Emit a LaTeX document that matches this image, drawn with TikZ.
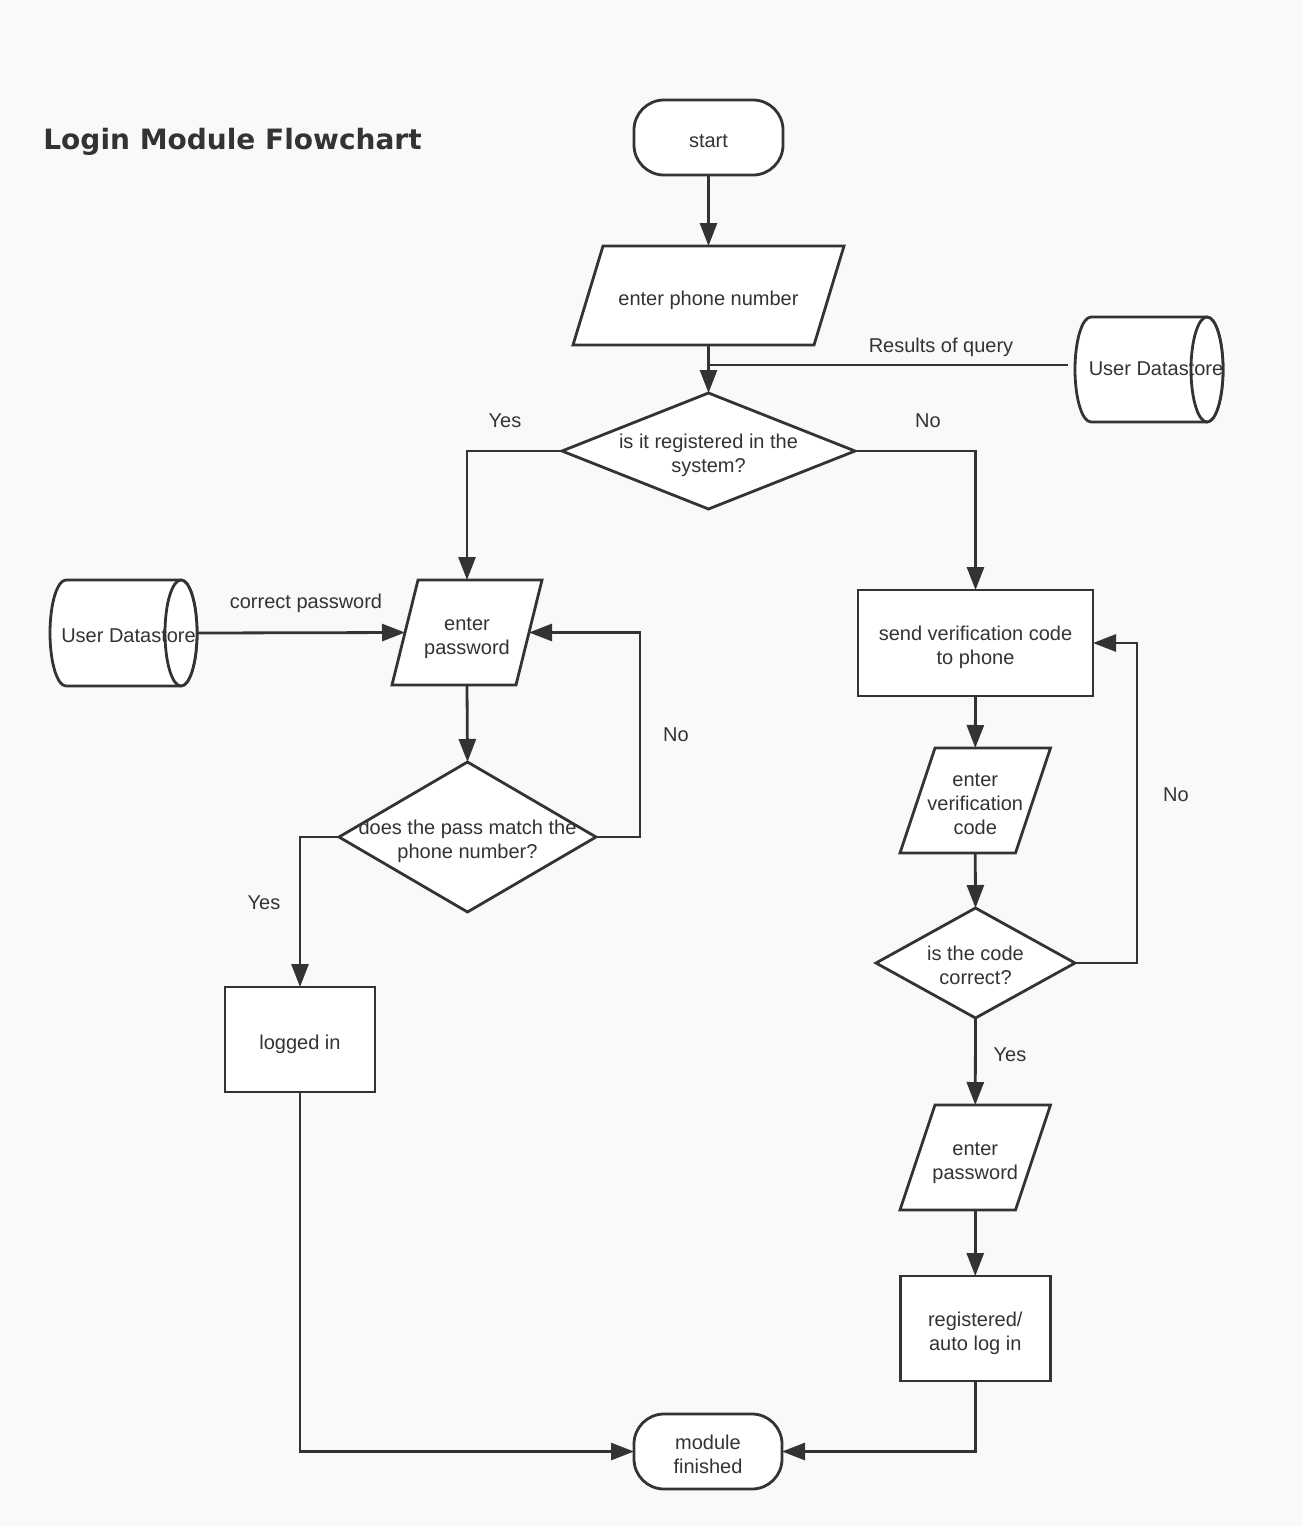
\documentclass[tikz,border=0pt]{standalone}
\usepackage{fontspec}
\setmainfont{Liberation Sans}
\newfontfamily\titlefont{DejaVu Sans}
\usetikzlibrary{shapes.geometric,arrows.meta,calc}
\definecolor{ink}{HTML}{333333}
\definecolor{paper}{HTML}{F9F9F9}
\pgfdeclarelayer{bg}\pgfdeclarelayer{shp}\pgfsetlayers{bg,shp,main}
\newcommand\zt[1]{\makebox[0pt]{\smash{\raisebox{-5pt}{\begin{tabular}[c]{@{}c@{}}#1\end{tabular}}}}}
\newcommand\para[2]{\draw[iobox] ([xshift=#2]#1.north west) -- ([xshift=#2]#1.north east) -- ([xshift=-#2]#1.south east) -- ([xshift=-#2]#1.south west) -- cycle;}
\newcommand\cyl[2]{%
 \draw[iobox] ([xshift=8pt]#1.north west) -- ([xshift=-8pt]#1.north east)
   arc[start angle=90, end angle=-90, x radius=8pt, y radius=#2]
   -- ([xshift=8pt]#1.south west)
   arc[start angle=270, end angle=90, x radius=8pt, y radius=#2] -- cycle;
 \draw[iobox] ([xshift=-8pt]#1.east) ellipse[x radius=8pt, y radius=#2];}
\tikzset{
 bodyfont/.style={font=\fontsize{10pt}{12pt}\selectfont, text=ink},
 base/.style={bodyfont, draw=ink, line width=1.4pt, fill=white, inner sep=0pt, outer sep=0pt},
 terminal/.style={base, rectangle, rounded corners=15pt, minimum width=74pt, minimum height=37.5pt},
 proc/.style={base, rectangle, minimum width=75pt, minimum height=52.5pt},
 decision/.style={base, diamond},
 iotext/.style={bodyfont, inner sep=0pt, outer sep=0pt, minimum height=52.5pt},
 iobox/.style={draw=ink, line width=1.4pt, fill=white},
 link/.style={draw=ink, line width=1.4pt},
 arr/.style={link, -{Triangle[length=11.5pt,width=8.5pt]}},
 lab/.style={bodyfont, inner sep=0pt},
}
\begin{document}
\begin{tikzpicture}[x=0.5pt, y=-0.5pt]
\useasboundingbox (0,0) rectangle (1303,1526);
\begin{pgfonlayer}{bg}
\fill[paper] (0,0) rectangle (1303,1526);
\end{pgfonlayer}

\node[anchor=west, inner sep=0pt, text=ink, font=\titlefont\bfseries\fontsize{14pt}{16pt}\selectfont] (title) at (43,142) {Login Module Flowchart};

% nodes
\node[terminal, minimum width=74.5pt] (start) at (708.5,137.5) {\zt{start}};
\node[iotext, minimum width=120.5pt, minimum height=49.5pt] (phone) at (708.5,295.5) {\zt{enter phone number}};
\node[iotext, minimum width=74pt, minimum height=52.5pt] (ds1) at (1149,369.5) {\zt{\hspace*{7pt}\raisebox{2pt}{User Datastore}}};
\node[decision, minimum width=146.5pt, minimum height=58pt] (d1) at (708.5,451) {\zt{is it registered in the\\system?}};
\node[iotext, minimum width=62pt] (pw1) at (467,632.5) {\zt{enter\\password}};
\node[iotext, minimum width=73.5pt, minimum height=53pt] (ds2) at (123.5,633) {\zt{\hspace*{5pt}User Datastore}};
\node[decision, minimum width=128.5pt, minimum height=75pt] (d2) at (467.5,837) {\zt{does the pass match the\\phone number?}};
\node[proc] (logged) at (300,1039.5) {\zt{logged in}};
\node[terminal] (fin) at (708,1451.5) {\zt{module\\finished}};
\node[proc, minimum width=117.5pt, minimum height=53pt] (send) at (975.5,643) {\zt{send verification code\\to phone}};
\node[iotext, minimum width=57.75pt] (ev) at (975.25,800.5) {\zt{enter\\verification\\code}};
\node[decision, minimum width=99.5pt, minimum height=55pt] (d3) at (975.5,963) {\zt{is the code\\correct?}};
\node[iotext, minimum width=57.75pt] (pw2) at (975.25,1157.5) {\zt{enter\\password}};
\node[proc] (reg) at (975.25,1328.5) {\zt{registered/\\auto log in}};

% outlines of parallelograms and datastores
\begin{pgfonlayer}{shp}
\para{phone}{7.5pt}
\para{pw1}{6.5pt}
\para{ev}{8.75pt}
\para{pw2}{8.75pt}
\cyl{ds1}{26.25pt}
\cyl{ds2}{26.5pt}
\end{pgfonlayer}

% connectors
\draw[arr] (start.south) -- (phone.north);
\draw[arr] (phone.south) -- (d1.north);
\coordinate (q) at ($(ds1.west)+(-7,-4.5)$);
\draw[link] (q) -- (q -| phone.south);
\node[lab] (lq) at (941,347) {Results of query};

\draw[arr] (d1.west) -| (pw1.north);
\node[lab] (ly1) at (505,421) {Yes};
\draw[arr] (d1.east) -| (send.north);
\node[lab] (ln1) at (928,421) {No};

\draw[arr] (ds2.east) -- (pw1.west);
\node[lab] (lc) at (306,603) {correct password};

\draw[arr] (pw1.south) -- (d2.north);
\draw[arr] (d2.east) -- ++(44,0) |- (pw1.east);
\node[lab] (ln2) at (676,735) {No};
\draw[arr] (d2.west) -| (logged.north);
\node[lab] (ly2) at (264,903) {Yes};
\draw[arr] (logged.south) |- (fin.west);

\draw[arr] (send.south) -- (ev.north);
\draw[arr] (ev.south) -- (d3.north);
\draw[arr] (d3.east) -- ++(62,0) |- (send.east);
\node[lab] (ln3) at (1176,795) {No};
\draw[arr] (d3.south) -- (pw2.north);
\node[lab] (ly3) at (1010,1055) {Yes};
\draw[arr] (pw2.south) -- (reg.north);
\draw[arr] (reg.south) |- (fin.east);
\end{tikzpicture}
\end{document}
